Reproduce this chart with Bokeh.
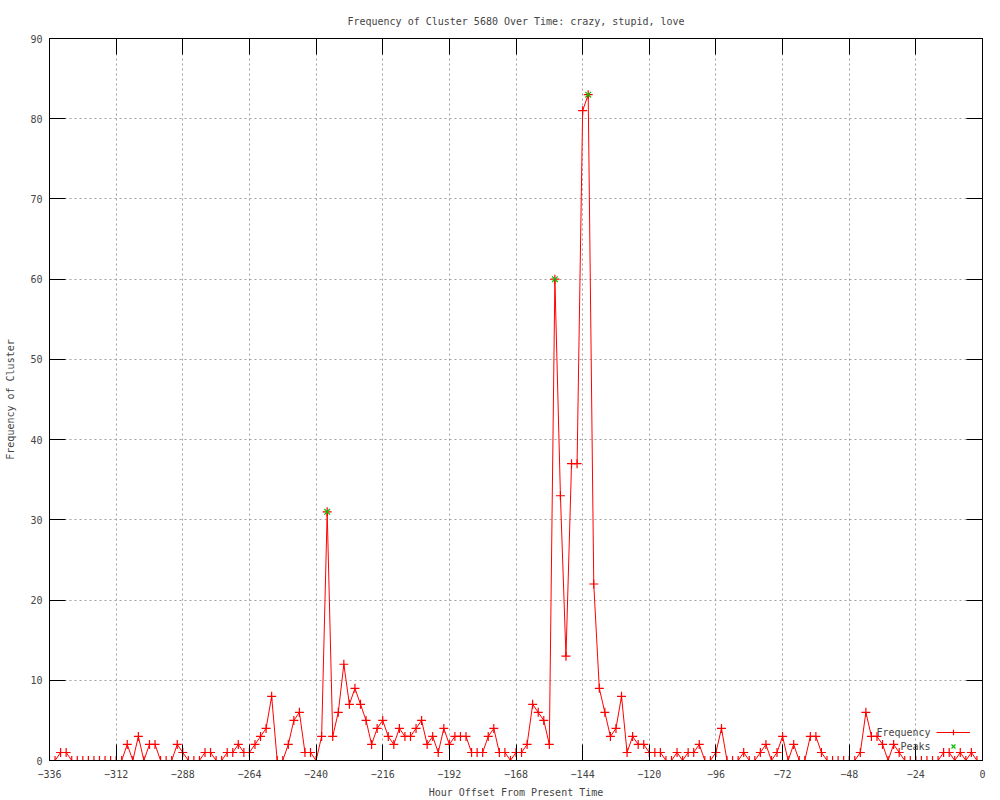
from bokeh.plotting import figure
from bokeh.models import (Range1d, LinearAxis, FixedTicker, Legend, LegendItem, Label)
from bokeh.embed import file_html
from bokeh.resources import INLINE
from bokeh.core.properties import value

# ---- data ----
hours = list(range(-336, 0, 2))
frequency = [
    0, 0, 1, 1, 0, 0, 0, 0, 0, 0, 0, 0, 0, 0,
    2, 0, 3, 0, 2, 2, 0, 0, 0, 2, 1, 0, 0, 0,
    1, 1, 0, 0, 1, 1, 2, 1, 1, 2, 3, 4, 8, 0,
    0, 2, 5, 6, 1, 1, 0, 3, 31, 3, 6, 12, 7, 9,
    7, 5, 2, 4, 5, 3, 2, 4, 3, 3, 4, 5, 2, 3,
    1, 4, 2, 3, 3, 3, 1, 1, 1, 3, 4, 1, 1, 0,
    1, 1, 2, 7, 6, 5, 2, 60, 33, 13, 37, 37, 81, 83,
    22, 9, 6, 3, 4, 8, 1, 3, 2, 2, 1, 1, 1, 0,
    0, 1, 0, 1, 1, 2, 0, 0, 1, 4, 0, 0, 0, 1,
    0, 0, 1, 2, 0, 1, 3, 0, 2, 0, 0, 3, 3, 1,
    0, 0, 0, 0, 0, 0, 1, 6, 3, 3, 2, 0, 2, 1,
    0, 0, 0, 0, 0, 0, 0, 1, 1, 0, 1, 0, 1, 0,
]
peak_hours = [-236, -154, -142]
peak_values = [31, 60, 83]
x_ticks = list(range(-336, 1, 24))
y_ticks = list(range(0, 91, 10))

title_text = "Frequency of Cluster 5680 Over Time: crazy, stupid, love"
x_label = "Hour Offset From Present Time"
y_label = "Frequency of Cluster"
series_labels = ["Frequency", "Peaks"]

FONT = "DejaVu Sans Mono"
FS = "10px"

p = figure(width=992, height=800, x_range=Range1d(-336, 0), y_range=Range1d(0, 90),
           output_backend="svg", toolbar_location=None,
           min_border_left=49, min_border_right=10, min_border_top=38, min_border_bottom=40,
           title=title_text)
p.title.text_font = FONT
p.title.text_font_size = FS
p.title.text_font_style = "normal"
p.title.align = "center"
p.title.standoff = 24
p.outline_line_color = "black"
p.outline_line_width = 1
p.background_fill_color = "white"
p.border_fill_color = "white"

xt = FixedTicker(ticks=x_ticks)
yt = FixedTicker(ticks=y_ticks)

for ax, tk in ((p.xaxis[0], xt), (p.yaxis[0], yt)):
    ax.ticker = tk
    ax.major_tick_in = 16
    ax.major_tick_out = 0
    ax.minor_tick_in = 0
    ax.minor_tick_out = 0
    ax.axis_line_color = "black"
    ax.major_tick_line_color = "black"
    ax.major_label_text_font = FONT
    ax.major_label_text_font_size = FS
    ax.axis_label_text_font = FONT
    ax.axis_label_text_font_size = FS
    ax.axis_label_text_font_style = "normal"

p.xaxis.axis_label = x_label
p.yaxis.axis_label = y_label
p.xaxis.major_label_standoff = 9
p.xaxis.axis_label_standoff = 6
p.yaxis.major_label_standoff = 7
p.yaxis.axis_label_standoff = 11

for side, tk in (("right", yt), ("above", xt)):
    ax = LinearAxis(ticker=tk, major_tick_in=16, major_tick_out=0,
                    minor_tick_in=0, minor_tick_out=0,
                    major_label_overrides={t: "" for t in tk.ticks},
                    major_label_standoff=0, axis_line_color="black")
    p.add_layout(ax, side)

for g, tk in ((p.xgrid, xt), (p.ygrid, yt)):
    g.ticker = tk
    g.grid_line_color = "#a0a0a0"
    g.grid_line_dash = "2 3"
    g.grid_line_width = 1

line_r = p.line(hours, frequency, line_color="#ff0000", line_width=1)
cross_r = p.scatter(hours, frequency, marker="cross", size=9, line_color="#ff0000", line_width=1.2)
peak_r = p.scatter(peak_hours, peak_values, marker="x", size=8, line_color="#00c000", line_width=1.2)

legend = Legend(items=[LegendItem(label=value(" "), renderers=[line_r, cross_r]),
                       LegendItem(label=value(" "), renderers=[peak_r])],
                location=(887, 7), orientation="vertical",
                glyph_width=34, glyph_height=14, label_height=14, label_width=0,
                label_standoff=0, spacing=0, padding=0, margin=0,
                border_line_alpha=0, background_fill_alpha=0,
                label_text_font_size="1px")
p.add_layout(legend, "center")

p.add_layout(Label(x=-18.7, y=3.49, text=series_labels[0], text_align="right",
                   text_baseline="middle", text_font=FONT, text_font_size=FS))
p.add_layout(Label(x=-18.7, y=1.75, text=series_labels[1], text_align="right",
                   text_baseline="middle", text_font=FONT, text_font_size=FS))

open("out.html", "w").write(file_html(p, INLINE))
